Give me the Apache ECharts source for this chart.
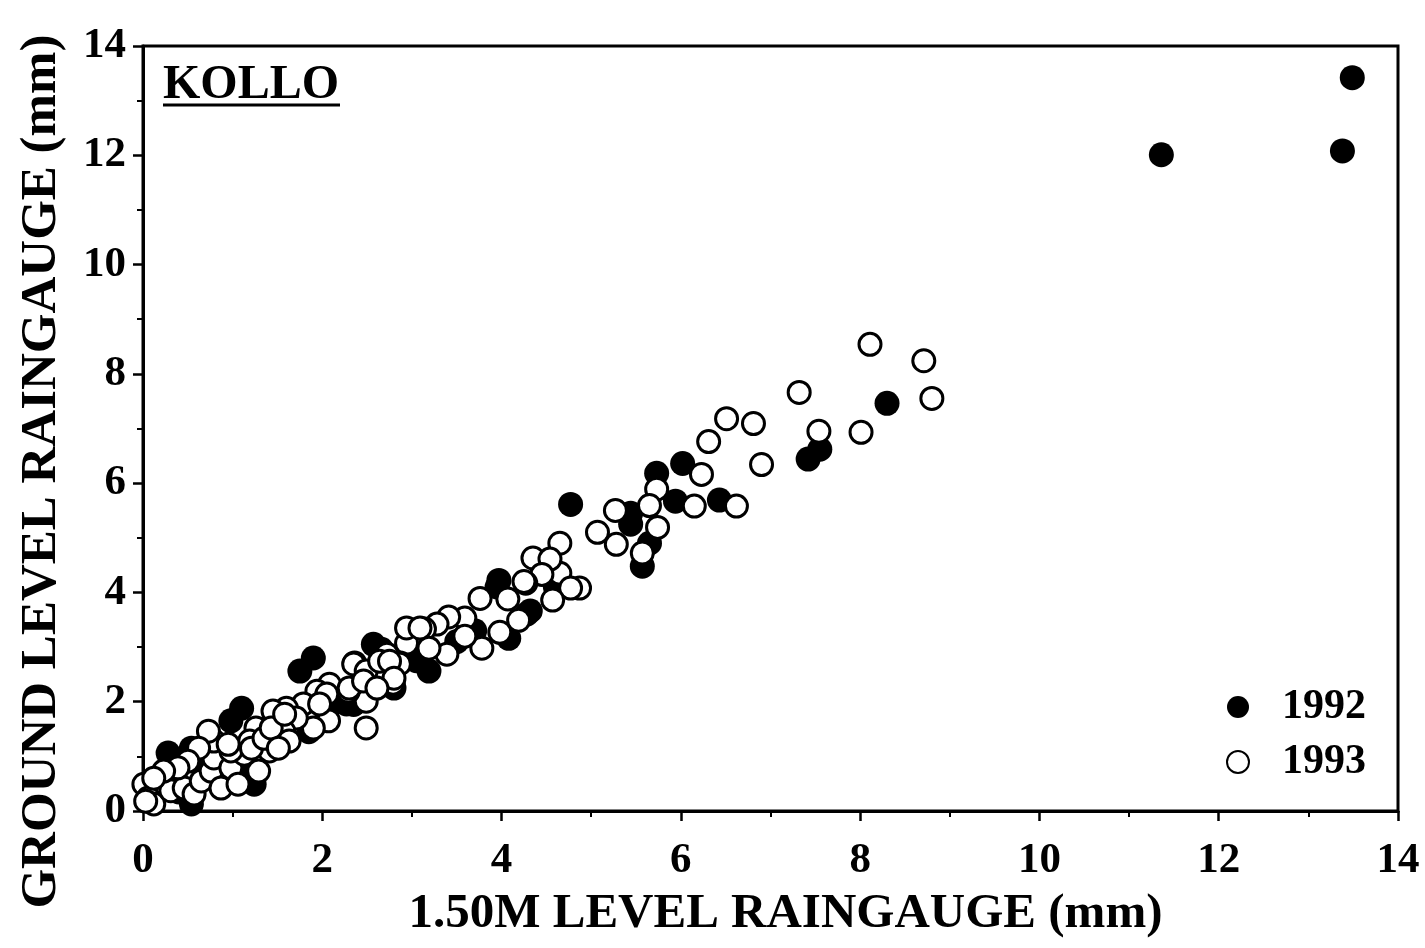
<!DOCTYPE html>
<html>
<head>
<meta charset="utf-8">
<title>KOLLO raingauge comparison</title>
<script src="https://cdn.jsdelivr.net/npm/echarts@6/dist/echarts.min.js"></script>
<style>
  html, body { margin: 0; padding: 0; background: #fff; }
  #main { width: 1425px; height: 948px; }
</style>
</head>
<body>
<div id="main"></div>
<script>
// 1.50m level gauge (x) vs ground level gauge (y), mm
const data1992 = [
  [11.36, 12.01], [13.38, 12.08], [13.49, 13.42],
  [8.30, 7.46], [7.55, 6.62], [7.42, 6.44], [6.02, 6.36], [5.73, 6.18], [5.94, 5.67],
  [6.43, 5.69], [4.77, 5.61], [5.44, 5.45], [5.44, 5.25], [5.65, 4.90], [5.57, 4.48],
  [3.97, 4.22], [4.32, 3.66], [4.08, 3.16], [4.28, 3.60], [3.95, 4.10], [4.60, 4.10],
  [3.19, 2.56], [2.66, 2.96], [2.57, 3.05], [3.05, 2.75], [3.50, 3.10], [3.70, 3.30],
  [2.27, 1.96], [1.90, 2.80], [1.75, 2.56], [2.80, 2.25], [2.35, 1.95], [2.05, 1.80],
  [1.10, 1.88], [0.98, 1.65], [0.28, 1.06], [0.54, 1.15], [1.45, 1.62], [1.62, 1.30],
  [1.85, 1.45], [1.24, 0.49], [0.54, 0.13], [1.21, 0.64], [0.75, 0.95], [0.90, 0.55],
  [0.40, 0.35], [0.65, 0.85], [1.10, 1.00]
];

const data1993 = [
  // upper part
  [8.11, 8.54], [8.71, 8.24], [8.80, 7.55], [7.32, 7.66], [8.01, 6.93], [7.54, 6.95],
  [6.51, 7.18], [6.81, 7.09], [6.31, 6.76], [6.90, 6.34], [6.23, 6.16], [5.73, 5.89],
  [6.15, 5.58], [6.62, 5.58], [5.27, 5.50], [5.65, 5.59], [5.74, 5.19], [5.07, 5.10],
  [5.28, 4.88], [5.57, 4.72], [4.65, 4.90], [4.65, 4.35], [4.87, 4.08], [4.77, 4.08],
  // middle
  [4.35, 4.63], [4.54, 4.61], [4.45, 4.33], [4.27, 4.17], [4.25, 4.20], [3.76, 3.89],
  [4.07, 3.88], [4.57, 3.86], [4.19, 3.49], [3.98, 3.27], [3.78, 2.98], [3.59, 3.53],
  [3.59, 3.20], [3.41, 3.55], [3.28, 3.42], [3.14, 3.33], [3.39, 2.87], [3.19, 2.98],
  [2.98, 3.29], [2.94, 3.07], [2.87, 2.71], [2.79, 2.34], [2.72, 2.87], [2.48, 2.50],
  [2.36, 2.71], [2.08, 2.32], [1.94, 2.19], [2.49, 2.01], [2.29, 2.19], [2.94, 3.35],
  [3.09, 3.35], [2.68, 2.43], [2.86, 2.69],
  // lower
  [2.05, 2.14], [2.07, 1.65], [1.90, 1.52], [1.79, 1.96], [1.60, 1.88], [1.71, 1.70],
  [1.57, 1.46], [1.45, 1.83], [1.38, 1.33], [1.26, 1.52], [1.19, 1.28], [1.41, 1.10],
  [1.63, 1.28], [1.97, 1.96], [2.30, 2.25], [2.35, 2.69], [2.49, 2.56], [2.49, 1.52],
  [2.46, 2.38], [2.64, 2.74], [2.75, 2.74], [2.80, 2.43], [2.61, 2.25],
  // near the origin
  [0.01, 0.49], [0.06, 0.24], [0.12, 0.13], [0.28, 0.55], [0.31, 0.37], [0.46, 0.42],
  [0.57, 0.31], [0.65, 0.55], [0.76, 0.73], [0.79, 0.97], [0.87, 0.42], [0.79, 1.28],
  [0.98, 0.79], [1.06, 0.49], [1.13, 1.04], [0.98, 1.10], [0.95, 1.22], [1.21, 1.15],
  [1.35, 1.33], [1.43, 1.52], [1.58, 1.77], [1.51, 1.15], [1.29, 0.73], [0.73, 1.46],
  [0.62, 1.15], [0.50, 0.91], [0.39, 0.79], [0.23, 0.73], [0.12, 0.60], [0.03, 0.18]
];

const seriesNames = ['1992', '1993'];
const axisTicks = [0, 2, 4, 6, 8, 10, 12, 14];

const font = 'Liberation Serif';

const chart = echarts.init(document.getElementById('main'));

// shared axis look
function axisBase(name) {
  return {
    type: 'value',
    min: axisTicks[0],
    max: axisTicks[axisTicks.length - 1],
    interval: axisTicks[1] - axisTicks[0],
    name: name,
    nameLocation: 'middle',
    nameTextStyle: { color: '#000', fontFamily: font, fontWeight: 'bold', fontSize: 49 },
    axisLine: { show: true, lineStyle: { color: '#000', width: 3 } },
    axisTick: { show: true, inside: false, length: 10, lineStyle: { color: '#000', width: 2.5 } },
    minorTick: { show: true, splitNumber: 2, length: 6, lineStyle: { color: '#000', width: 2 } },
    splitLine: { show: false },
    axisLabel: { color: '#000', fontFamily: font, fontWeight: 'bold', fontSize: 43 }
  };
}

const xAxis = axisBase('1.50M LEVEL RAINGAUGE (mm)');
xAxis.nameGap = 79;
// title sits a little right of centre in the original
xAxis.nameTextStyle.padding = [0, 0, 0, 30];
xAxis.axisLabel.margin = 28;

const yAxis = axisBase('GROUND LEVEL RAINGAUGE (mm)');
yAxis.nameGap = 76;
yAxis.nameTextStyle.fontSize = 51;
// push the title a bit lower, like the original
yAxis.nameTextStyle.padding = [0, 86, 0, 0];
yAxis.axisLabel.margin = 17;

const option = {
  backgroundColor: '#fff',
  animation: false,
  grid: {
    left: 143, right: 27, top: 46, bottom: 137,
    show: true, borderColor: '#000', borderWidth: 3, backgroundColor: 'transparent'
  },
  xAxis: xAxis,
  yAxis: yAxis,
  legend: {
    data: seriesNames,
    orient: 'vertical',
    left: 1226,
    top: 686,
    padding: 0,
    itemWidth: 22,
    itemHeight: 22,
    itemGap: 13,
    icon: 'circle',
    textStyle: {
      color: '#000', fontFamily: font, fontWeight: 'bold', fontSize: 42,
      padding: [0, 0, 0, 28]
    }
  },
  graphic: [
    {
      type: 'text',
      left: 163,
      top: 62,
      style: { text: 'KOLLO', fill: '#000', font: 'bold 48px "Liberation Serif"' }
    },
    {
      type: 'line',
      shape: { x1: 163, y1: 105, x2: 340, y2: 105 },
      style: { stroke: '#000', lineWidth: 3 }
    }
  ],
  series: [
    {
      name: seriesNames[0],
      type: 'scatter',
      data: data1992,
      symbol: 'circle',
      symbolSize: 25,
      itemStyle: { color: '#000', opacity: 1 }
    },
    {
      name: seriesNames[1],
      type: 'scatter',
      data: data1993,
      symbol: 'circle',
      symbolSize: 22,
      itemStyle: { color: '#fff', borderColor: '#000', borderWidth: 3, opacity: 1 }
    }
  ]
};

chart.setOption(option);
</script>
</body>
</html>
